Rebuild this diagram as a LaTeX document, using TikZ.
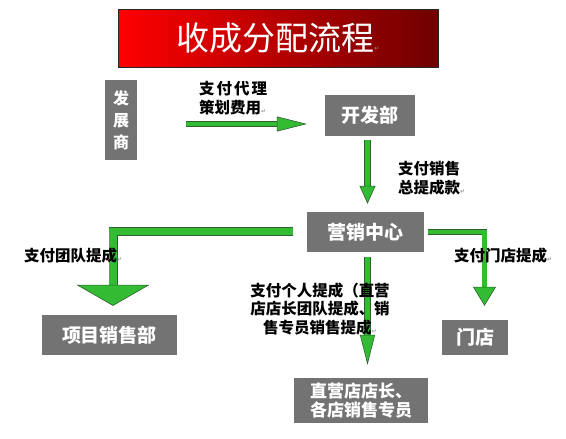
\documentclass[tikz,border=0pt]{standalone}
\usepackage{fontspec}
\setmainfont{Noto Sans CJK SC}
\newfontfamily\markfont{DejaVu Sans}
\usetikzlibrary{arrows.meta,calc}
\definecolor{titlered}{HTML}{FF0000}
\definecolor{titlemid}{HTML}{D80000}
\definecolor{titledark}{HTML}{6E0000}
\definecolor{boxgray}{HTML}{737373}
\definecolor{arrowgreen}{HTML}{33BB33}
\definecolor{arrowedge}{HTML}{2F5F2F}
\newcommand{\pmark}{{\markfont\fontsize{6}{6}\selectfont\textcolor{black!40}{↵}}}

\begin{document}
\begin{tikzpicture}[x=1pt,y=-1pt,
  titlebox/.style={draw=black!85,line width=0.6pt,left color=titlered,middle color=titlemid,
    right color=titledark,text=white,inner sep=0pt,font=\fontsize{33}{36}\selectfont},
  box/.style={fill=boxgray,text=white,inner sep=0pt,align=center,
    font=\fontsize{19}{22}\selectfont\bfseries},
  lbl/.style={inner sep=0pt,align=left,font=\fontsize{15.5}{18.5}\selectfont\bfseries},
  blockarr/.style n args={3}{draw=arrowedge,line width=0.6pt,double=arrowgreen,double distance=#1,
    -{Triangle[width=#2,length=#3,line width=0.6pt,fill=arrowgreen]}}
]
\fill[white] (0,0) rectangle (566,439);
\useasboundingbox (0,0) rectangle (566,439);

% title
\node[titlebox, minimum width=320pt, minimum height=58pt] (title) at (278,38) {收成分配流程\pmark};

% boxes
\node[box, minimum width=32pt, minimum height=80pt, font=\fontsize{16}{22}\selectfont\bfseries] (fzs) at (121,120) {发\\展\\商};
\node[box, minimum width=90pt, minimum height=41pt] (kfb) at (370,115.5) {开发部};
\node[box, minimum width=117pt, minimum height=40pt] (yxzx) at (365.5,232) {营销中心};
\node[box, minimum width=135pt, minimum height=40pt] (xmxsb) at (109.5,335) {项目销售部};
\node[box, minimum width=66pt, minimum height=35pt] (md) at (475,337.5) {门店};
\node[box, minimum width=134pt, minimum height=45pt, font=\fontsize{17}{19}\selectfont\bfseries] (zy) at (361,400.5) {直营店店长、\\各店销售专员};

% block arrows
\draw[blockarr={4.8pt}{15pt}{30pt}] ($(fzs.east)+(49,4)$) -- ($(kfb.west)+(-18,8.5)$);
\draw[blockarr={5.8pt}{16pt}{18pt}] ($(kfb.south)+(-2.5,4)$) -- ($(yxzx.north)+(2,-8)$);
\draw[blockarr={7.8pt}{73pt}{21pt}] ($(yxzx.west)+(-14,-0.5)$) -| ($(xmxsb.north)+(3.5,-9)$);
\draw[blockarr={4.3pt}{23pt}{19pt}] ($(yxzx.east)+(4,0)$) -| ($(md.north)+(9.5,-14)$);
\draw[blockarr={5.8pt}{15pt}{30pt}] ($(yxzx.south)+(2,5)$) -- ($(zy.north)+(6.5,-13)$);

% labels
\node[lbl, anchor=west] (lbl_dl) at (199,98) {支\hspace{2pt}付\hspace{2pt}代\hspace{2pt}理\\策划费用\pmark};
\node[lbl, anchor=west] (lbl_xs) at (398,178) {支付销售\\总提成款\pmark};
\node[lbl, anchor=west] (lbl_td) at (24,256) {支付团队提成\pmark};
\node[lbl, anchor=west] (lbl_md) at (454,256) {支付门店提成\pmark};
\node[lbl, align=center] (lbl_gr) at (320,309) {支付个人提成（直营\\店店长团队提成、销\\售专员销售提成\pmark};

\end{tikzpicture}
\end{document}
